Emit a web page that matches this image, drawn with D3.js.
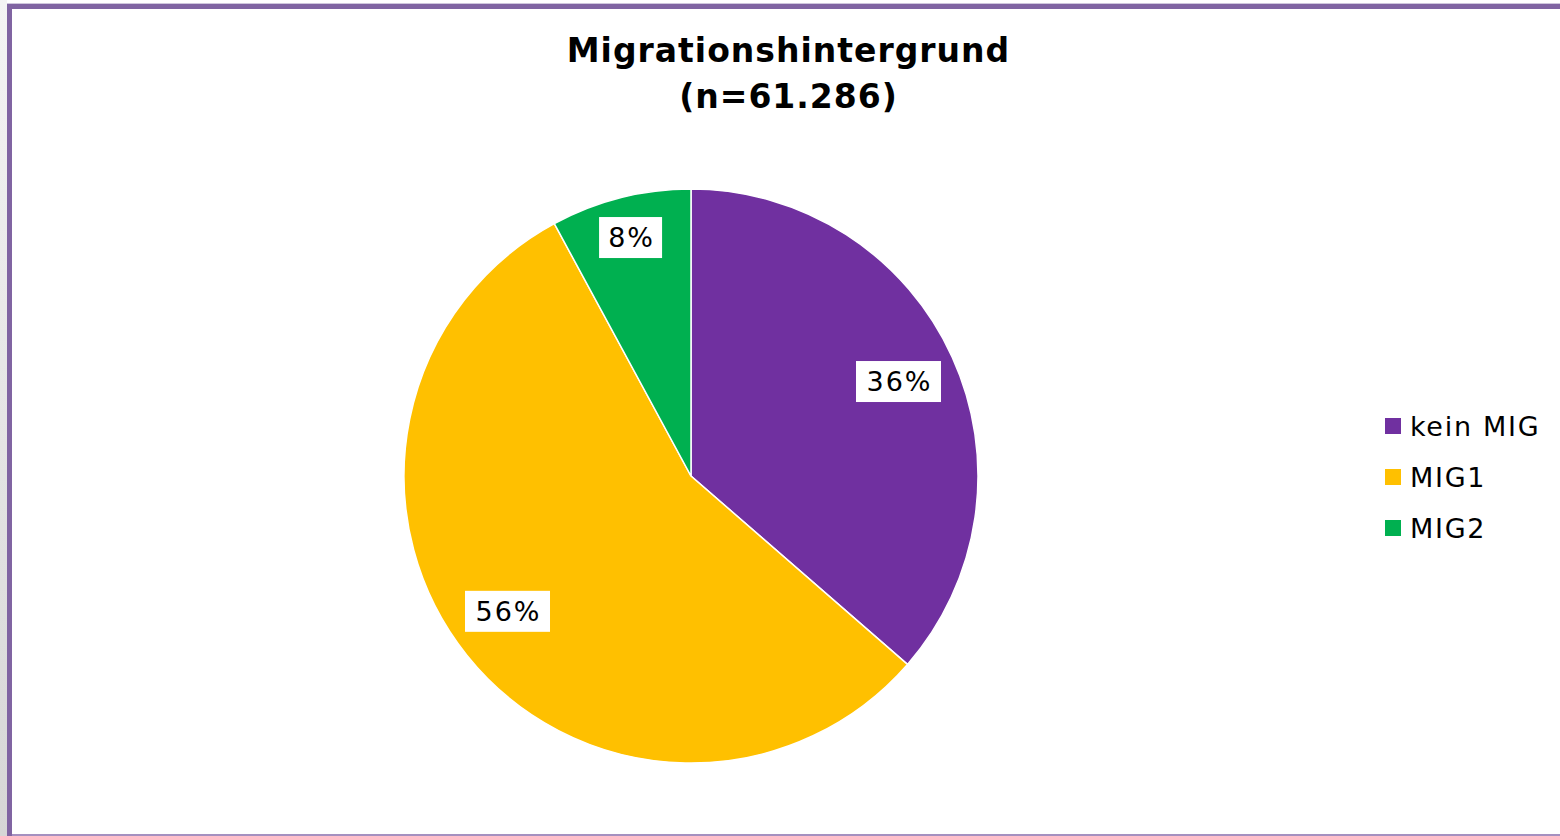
<!DOCTYPE html>
<html>
<head>
<meta charset="utf-8">
<script src="https://cdn.jsdelivr.net/npm/d3@7"></script>
<style>
  body { margin: 0; background: #fff; }
  svg { display: block; }
</style>
</head>
<body>
<svg id="chart" width="1560" height="836"></svg>
<script>
const categories = ['kein MIG', 'MIG1', 'MIG2'];
const shares = [36.4, 55.7, 7.9];
const colors = ['#7030A0', '#FFC000', '#00B050'];
const titleLines = ['Migrationshintergrund', '(n=61.286)'];

const svg = d3.select('#chart');
const font = 'Verdana, "DejaVu Sans", sans-serif';

// frame: gray strip on the left, purple border on left/top
const grad = svg.append('defs').append('linearGradient')
    .attr('id', 'side').attr('x1', 0).attr('y1', 0).attr('x2', 0).attr('y2', 1);
grad.append('stop').attr('offset', '0%').attr('stop-color', '#f4f4f4');
grad.append('stop').attr('offset', '100%').attr('stop-color', '#d6d6d6');
svg.append('rect').attr('x', 0).attr('y', 0).attr('width', 7).attr('height', 836).attr('fill', 'url(#side)');
svg.append('rect').attr('x', 7).attr('y', 3).attr('width', 1553).attr('height', 1).attr('fill', '#cfc6dd');
svg.append('rect').attr('x', 7).attr('y', 4).attr('width', 1553).attr('height', 5).attr('fill', '#8064A2');
svg.append('rect').attr('x', 7).attr('y', 4).attr('width', 5).attr('height', 832).attr('fill', '#8064A2');
svg.append('rect').attr('x', 12).attr('y', 834).attr('width', 1548).attr('height', 2).attr('fill', '#a590c0');

// title
svg.append('text')
    .attr('x', 788)
    .attr('text-anchor', 'middle')
    .style('font-family', font)
    .style('font-weight', 'bold')
    .style('font-size', '33px')
    .style('letter-spacing', '1px')
    .selectAll('tspan')
    .data(titleLines)
    .enter()
    .append('tspan')
    .attr('x', 788.5)
    .attr('y', (d, i) => 62 + i * 46)
    .text(d => d);

// pie
const cx = 691, cy = 476, R = 287;
const pie = d3.pie().sort(null).value(d => d);
const arc = d3.arc().innerRadius(0).outerRadius(R);
const arcs = pie(shares);

const g = svg.append('g').attr('transform', `translate(${cx},${cy})`);
g.selectAll('path')
    .data(arcs)
    .enter()
    .append('path')
    .attr('d', arc)
    .attr('fill', (d, i) => colors[i])
    .attr('stroke', '#fff')
    .attr('stroke-width', 1.5);

// labels sit a bit off the bisector, the small slice further out
const labelPos = d => {
  if (d.data < 10) return d3.arc().innerRadius(246).outerRadius(246).centroid(d);
  const r = 228, a = (d.startAngle + d.endAngle) / 2 + (d.index === 1 ? 0.04 : 0);
  return [r * Math.sin(a), -r * Math.cos(a)];
};

const labels = g.selectAll('g.lbl')
    .data(arcs)
    .enter()
    .append('g')
    .attr('class', 'lbl')
    .attr('transform', d => `translate(${labelPos(d)})`);

labels.append('rect')
    .attr('x', d => d.data < 10 ? -31.5 : -42.5)
    .attr('y', -20.5)
    .attr('width', d => d.data < 10 ? 63 : 85)
    .attr('height', 41)
    .attr('fill', '#fff');

labels.append('text')
    .attr('text-anchor', 'middle')
    .attr('x', 1)
    .attr('dy', '0.36em')
    .style('font-family', font)
    .style('font-size', '27px')
    .style('letter-spacing', '2px')
    .attr('fill', '#000')
    .text(d => Math.round(d.data) + '%');

// legend
const legend = svg.append('g').attr('transform', 'translate(1385,426)');
const rows = legend.selectAll('g')
    .data(categories)
    .enter()
    .append('g')
    .attr('transform', (d, i) => `translate(0,${i * 51})`);

rows.append('rect')
    .attr('x', 0).attr('y', -8)
    .attr('width', 16).attr('height', 16)
    .attr('fill', (d, i) => colors[i]);

rows.append('text')
    .attr('x', 25)
    .attr('dy', '0.36em')
    .style('font-family', font)
    .style('font-size', '27px')
    .style('letter-spacing', '1.7px')
    .attr('fill', '#000')
    .text(d => d);
</script>
</body>
</html>
